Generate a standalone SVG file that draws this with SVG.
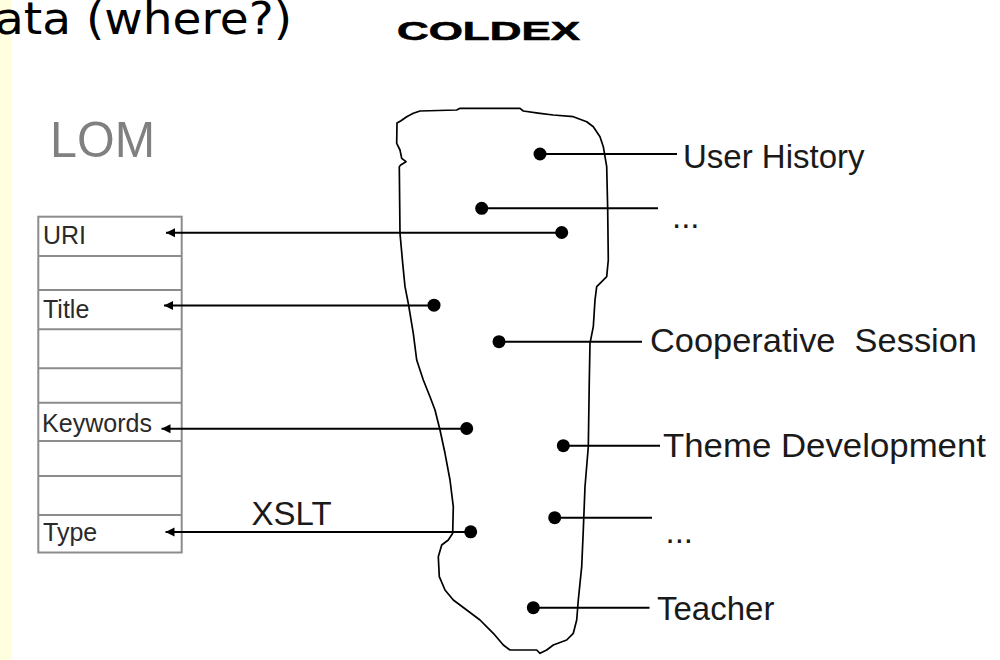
<svg xmlns="http://www.w3.org/2000/svg" width="1000" height="660" viewBox="0 0 1000 660">
<style>
.lbl{font-family:"Liberation Sans",Arial,sans-serif;fill:#1a1a1a;font-size:33px}
.cell{font-family:"Liberation Sans",Arial,sans-serif;fill:#2a2a2a;font-size:25px}
.row{stroke:#8c8c8c;stroke-width:2;fill:none}
.ln{stroke:#000;stroke-width:2;fill:none}
.dot{fill:#000}
</style>
<defs>
<marker id="ah" markerUnits="userSpaceOnUse" viewBox="0 0 10 10" refX="10" refY="5" markerWidth="9" markerHeight="11" orient="auto">
<path d="M0,0 L10,5 L0,10 Z" fill="#000"/>
</marker>
</defs>
<rect x="0" y="0" width="1000" height="660" fill="#fff"/>
<rect x="0" y="0" width="12" height="660" fill="#FFFFE0"/>
<text x="-5" y="34" font-family="DejaVu Sans,Verdana,sans-serif" font-size="44" fill="#000" textLength="297" lengthAdjust="spacingAndGlyphs">ata (where?)</text>

<g id="coldex-title">
<text x="397" y="40" font-family="Liberation Sans,Arial,sans-serif" font-weight="bold" font-size="26" fill="#000" stroke="#000" stroke-width="0.6" textLength="183" lengthAdjust="spacingAndGlyphs">COLDEX</text>
</g>

<g id="lom">
<text x="50" y="156.5" font-family="Liberation Sans,Arial,sans-serif" font-size="50" fill="#808080" textLength="105" lengthAdjust="spacingAndGlyphs">LOM</text>
<rect class="row" x="38.3" y="216.7" width="143.4" height="335.8"/>
<path class="row" d="M38.3,256H181.7M38.3,290H181.7M38.3,329.3H181.7M38.3,368.3H181.7M38.3,402.7H181.7M38.3,441H181.7M38.3,476H181.7M38.3,515H181.7"/>
<text class="cell" x="43" y="244">URI</text>
<text class="cell" x="43" y="318">Title</text>
<text class="cell" x="42" y="432" textLength="110" lengthAdjust="spacingAndGlyphs">Keywords</text>
<text class="cell" x="43" y="541">Type</text>
</g>

<g id="coldex-blob">
<path fill="none" stroke="#000" stroke-width="1.7" stroke-linejoin="round" d="M397,123 L401,120.7 L406.7,116.7 L413.3,113.3 L420,111 L456.7,110 L460,108.3 L520,108.3 L523.3,111 L540,113.3 L553.3,115 L573.3,116.7 L586.7,121.7 L593.3,126.7 L600,136.7 L603.3,146.7 L606.7,166.7 L607.7,210 L608.3,260 L606.7,276.7 L600,283.3 L596.7,286.7 L595,300 L593.3,326.7 L590,343.3 L589.3,380 L588.3,446.7 L585,486.7 L583.3,530 L581.7,566.7 L578.3,600 L576.7,620 L573.3,633.3 L566.7,640 L553.3,645 L546.7,650 L540,653.3 L536.7,650 L510,650 L503.3,645 L493.3,633.3 L480,620 L466.7,610 L453.3,600 L445,590 L439.3,576.7 L438.3,556.7 L441.7,545 L448.3,540 L452.7,533.3 L453.3,506.7 L450,480 L445,453.3 L440,430 L435,410 L430,396.7 L423.3,380 L416.7,360 L413.3,333.3 L408.3,303.3 L405,286.7 L402.7,263.3 L400,233.3 L399.3,166.7 L400.7,165 L406,161.7 L401.7,158.3 L400,150 L396.7,143.3 Z"/>
</g>

<g id="connectors">
<line class="ln" x1="540" y1="154" x2="677" y2="154"/>
<line class="ln" x1="482" y1="208.3" x2="658" y2="208.3"/>
<line class="ln" x1="499" y1="341.7" x2="642" y2="341.7"/>
<line class="ln" x1="563.3" y1="445.7" x2="660" y2="445.7"/>
<line class="ln" x1="554.7" y1="517.7" x2="652" y2="517.7"/>
<line class="ln" x1="533.3" y1="607.7" x2="649.5" y2="607.7"/>
<line class="ln" x1="561.7" y1="232.8" x2="166" y2="232.8" marker-end="url(#ah)"/>
<line class="ln" x1="434" y1="305.5" x2="164" y2="305.5" marker-end="url(#ah)"/>
<line class="ln" x1="466.7" y1="428.8" x2="161.5" y2="428.8" marker-end="url(#ah)"/>
<line class="ln" x1="470.7" y1="532" x2="165.5" y2="532" marker-end="url(#ah)"/>
</g>

<g id="dots">
<circle class="dot" cx="540" cy="154" r="6.5"/>
<circle class="dot" cx="481.7" cy="208.3" r="6.5"/>
<circle class="dot" cx="561.7" cy="232.5" r="6.5"/>
<circle class="dot" cx="434" cy="305.2" r="6.5"/>
<circle class="dot" cx="499" cy="341.7" r="6.5"/>
<circle class="dot" cx="466.7" cy="428.5" r="6.5"/>
<circle class="dot" cx="563.3" cy="445.7" r="6.5"/>
<circle class="dot" cx="554.7" cy="517.7" r="6.5"/>
<circle class="dot" cx="470.7" cy="531.8" r="6.5"/>
<circle class="dot" cx="533.3" cy="607.7" r="6.5"/>
</g>

<g id="label-user-history"><text class="lbl" x="683" y="168">User History</text></g>
<g id="label-dots-1"><text class="lbl" x="672" y="228">...</text></g>
<g id="label-cooperative-session"><text class="lbl" x="650" y="352" xml:space="preserve" textLength="327" lengthAdjust="spacingAndGlyphs">Cooperative  Session</text></g>
<g id="label-theme-development"><text class="lbl" x="663" y="456.5" textLength="323" lengthAdjust="spacingAndGlyphs">Theme Development</text></g>
<g id="label-dots-2"><text class="lbl" x="665.5" y="543">...</text></g>
<g id="label-teacher"><text class="lbl" x="657" y="620">Teacher</text></g>
<g id="label-xslt"><text class="lbl" x="251.5" y="525" font-size="32">XSLT</text></g>
</svg>
